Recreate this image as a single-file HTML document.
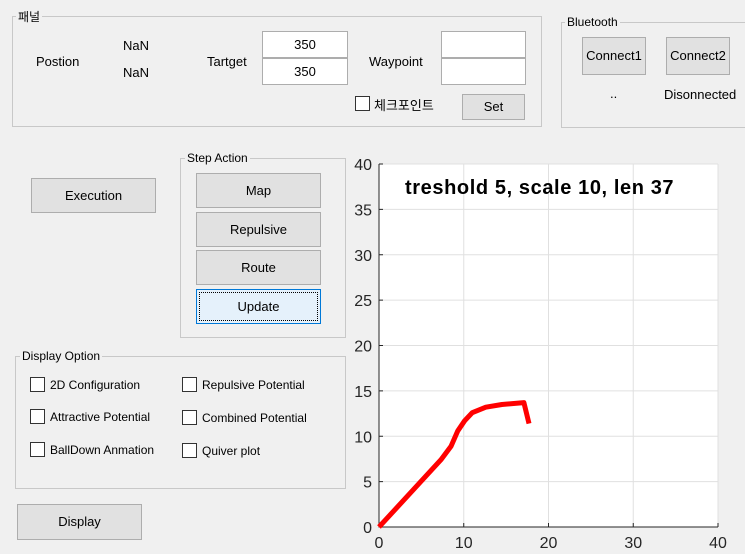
<!DOCTYPE html>
<html><head><meta charset="utf-8"><style>
body{margin:0;width:745px;height:554px;background:#f0f0f0;font-family:"Liberation Sans","Noto Sans CJK KR",sans-serif;font-size:13px;color:#000;position:relative;overflow:hidden}
.a{position:absolute}
.grp{position:absolute;border:1px solid #c8c8c8;}
.lg{position:absolute;background:#f0f0f0;padding:0 2px;font-size:12px}
.btn{position:absolute;background:#e1e1e1;border:1px solid #adadad;text-align:center;box-sizing:border-box;font-size:13px}
.box{position:absolute;background:#fff;border:1px solid #adadad;box-sizing:border-box;text-align:center;font-size:13px}
.cb{position:absolute;width:15px;height:15px;border:1px solid #333;background:#fff;box-sizing:border-box}
.t{position:absolute;white-space:nowrap;font-size:13px}
</style></head><body>
<div class="grp" style="left:12px;top:16px;width:528px;height:109px"></div>
<div class="lg" style="left:16px;top:8px">패널</div>
<div class="t" style="left:36px;top:54px">Postion</div>
<div class="t" style="left:123px;top:38px">NaN</div>
<div class="t" style="left:123px;top:65px">NaN</div>
<div class="t" style="left:207px;top:54px">Tartget</div>
<div class="box" style="left:262px;top:31px;width:86px;height:27px;line-height:25px">350</div>
<div class="box" style="left:262px;top:58px;width:86px;height:27px;line-height:25px">350</div>
<div class="t" style="left:369px;top:54px">Waypoint</div>
<div class="box" style="left:441px;top:31px;width:85px;height:27px"></div>
<div class="box" style="left:441px;top:58px;width:85px;height:27px"></div>
<div class="cb" style="left:355px;top:96px"></div>
<div class="t" style="left:374px;top:95px">체크포인트</div>
<div class="btn" style="left:462px;top:94px;width:63px;height:26px;line-height:24px">Set</div>

<div class="grp" style="left:561px;top:22px;width:190px;height:104px"></div>
<div class="lg" style="left:565px;top:15px">Bluetooth</div>
<div class="btn" style="left:582px;top:37px;width:64px;height:38px;line-height:36px">Connect1</div>
<div class="btn" style="left:666px;top:37px;width:64px;height:38px;line-height:36px">Connect2</div>
<div class="t" style="left:610px;top:86px">..</div>
<div class="t" style="left:664px;top:87px">Disonnected</div>

<div class="btn" style="left:31px;top:178px;width:125px;height:35px;line-height:33px">Execution</div>
<div class="grp" style="left:180px;top:158px;width:164px;height:178px"></div>
<div class="lg" style="left:185px;top:151px">Step Action</div>
<div class="btn" style="left:196px;top:173px;width:125px;height:35px;line-height:33px">Map</div>
<div class="btn" style="left:196px;top:212px;width:125px;height:35px;line-height:33px">Repulsive</div>
<div class="btn" style="left:196px;top:250px;width:125px;height:35px;line-height:33px">Route</div>
<div class="btn" style="left:196px;top:289px;width:125px;height:35px;line-height:33px;background:#e5f1fb;border:1px solid #0078d7;outline:1px dotted #000;outline-offset:-4px">Update</div>

<div class="grp" style="left:15px;top:356px;width:329px;height:131px"></div>
<div class="lg" style="left:20px;top:349px">Display Option</div>
<div class="cb" style="left:30px;top:377px"></div>
<div class="t" style="left:50px;top:378px;font-size:12px">2D Configuration</div>
<div class="cb" style="left:30px;top:409px"></div>
<div class="t" style="left:50px;top:410px;font-size:12px">Attractive Potential</div>
<div class="cb" style="left:30px;top:442px"></div>
<div class="t" style="left:50px;top:443px;font-size:12px">BallDown Anmation</div>
<div class="cb" style="left:182px;top:377px"></div>
<div class="t" style="left:202px;top:378px;font-size:12px">Repulsive Potential</div>
<div class="cb" style="left:182px;top:410px"></div>
<div class="t" style="left:202px;top:411px;font-size:12px">Combined Potential</div>
<div class="cb" style="left:182px;top:443px"></div>
<div class="t" style="left:202px;top:444px;font-size:12px">Quiver plot</div>
<div class="btn" style="left:17px;top:504px;width:125px;height:36px;line-height:34px">Display</div>

<svg class="a" style="left:0;top:0" width="745" height="554" id="chart"></svg>
<script>
const xTicks=[0,10,20,30,40];
const yTicks=[0,5,10,15,20,25,30,35,40];
const pathX=[0,7.3,8.5,9.3,10.1,11,12.6,14.5,17.1,17.7];
const pathY=[0,7.4,8.9,10.6,11.7,12.6,13.2,13.5,13.7,11.4];
const titleText="treshold 5, scale 10, len 37";
const X0=379,X1=718,Y0=527,Y1=164;
const sx=v=>X0+(v-0)/40*(X1-X0);
const sy=v=>Y0-(v-0)/40*(Y0-Y1);
const svg=document.getElementById('chart');
const NS='http://www.w3.org/2000/svg';
function mk(t,a){const e=document.createElementNS(NS,t);for(const k in a)e.setAttribute(k,a[k]);svg.appendChild(e);return e;}
const bg=mk('rect',{x:X0,y:Y1,width:X1-X0,height:Y0-Y1,fill:'#fff'});


xTicks.forEach(v=>{
 const g=mk('line',{x1:sx(v),x2:sx(v),y1:Y1,y2:Y0,stroke:'#e0e0e0'});
 
 
 const tk=mk('line',{x1:sx(v),x2:sx(v),y1:Y0,y2:Y0-4,stroke:'#262626'});
 
 
 const t=mk('text',{x:sx(v),y:Y0+21,'text-anchor':'middle','font-size':'16','font-family':'Liberation Sans, sans-serif',fill:'#262626'});
 t.textContent=v;
 
 
});
yTicks.forEach(v=>{
 const g=mk('line',{x1:X0,x2:X1,y1:sy(v),y2:sy(v),stroke:'#e0e0e0'});
 
 
 const tk=mk('line',{x1:X0,x2:X0+4,y1:sy(v),y2:sy(v),stroke:'#262626'});
 
 
 const t=mk('text',{x:X0-7,y:sy(v)+6,'text-anchor':'end','font-size':'16','font-family':'Liberation Sans, sans-serif',fill:'#262626'});
 t.textContent=v;
 
 
});
const ax=mk('path',{d:`M${X0},${Y1}V${Y0}H${X1}`,fill:'none',stroke:'#262626'});


const ln=mk('polyline',{points:pathX.map((x,i)=>sx(x)+','+sy(pathY[i])).join(' '),fill:'none',stroke:'#ff0000','stroke-width':5,'stroke-linejoin':'round'});


const tt=mk('text',{x:405,y:194,'font-size':'20','font-weight':'bold','letter-spacing':'0.6','font-family':'Liberation Sans, sans-serif',fill:'#000'});
tt.textContent=titleText;


</script>
</body></html>
